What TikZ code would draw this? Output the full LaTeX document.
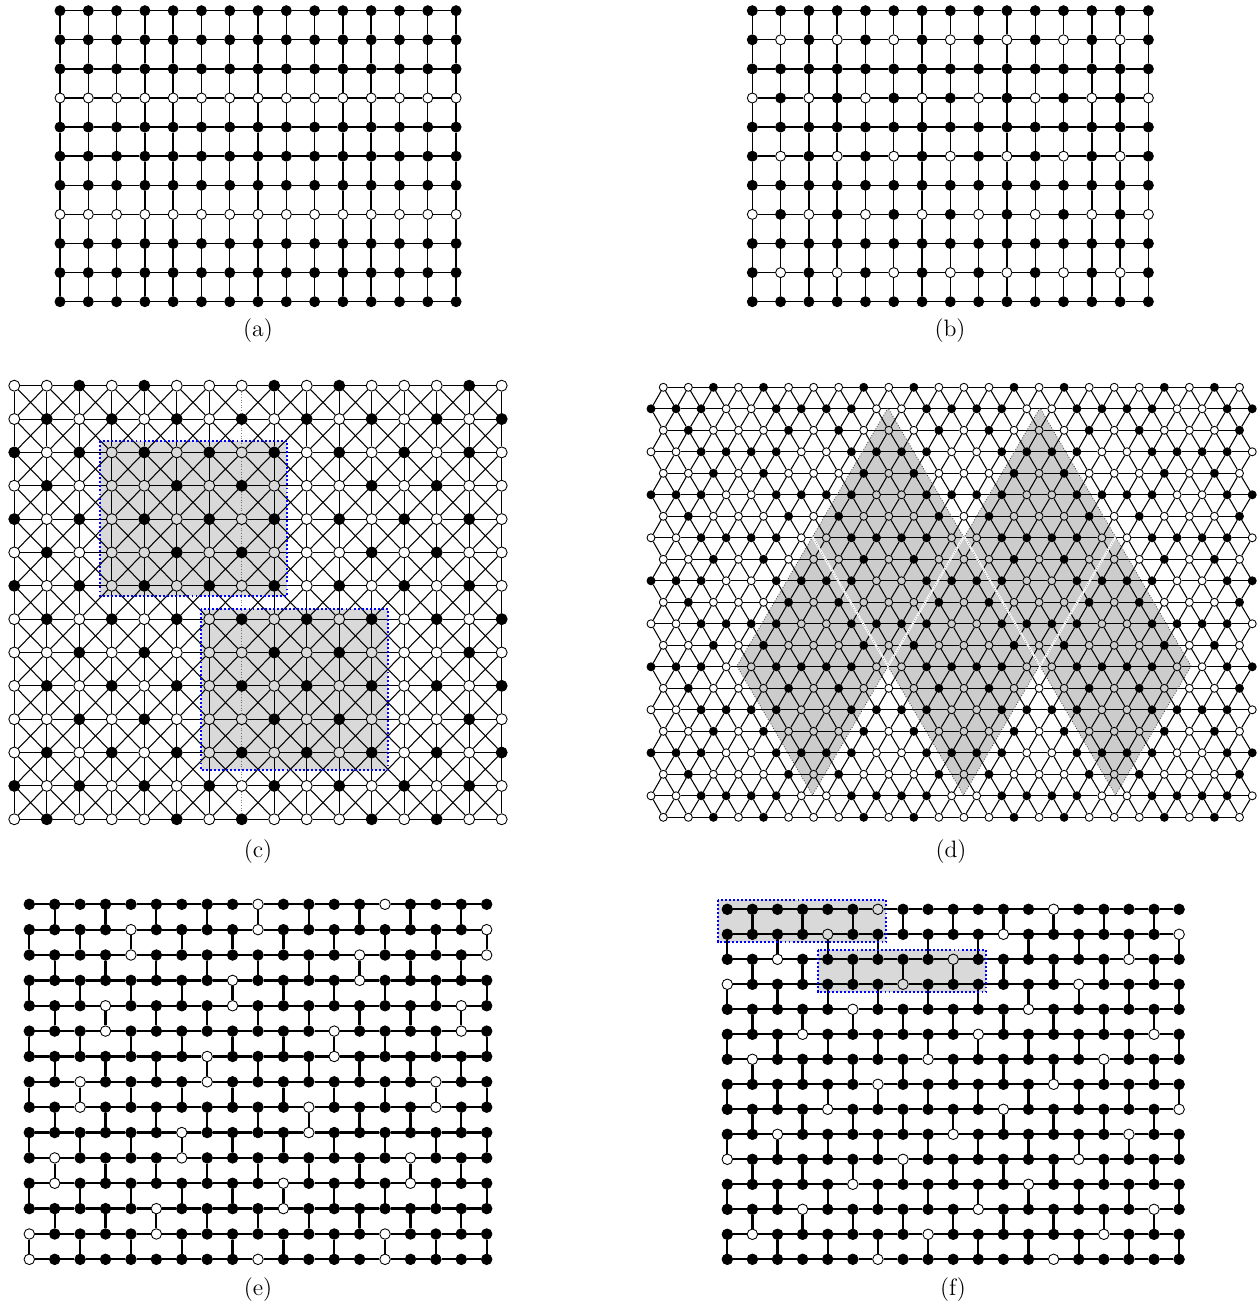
\documentclass[tikz,border=0pt]{standalone}
\usepackage{xstring}
\tikzset{
  vtx/.style={circle,draw=black,line width=0.5pt,inner sep=0pt,minimum size=#1},
  lnk/.style={line width=#1},
  greyfill/.style={fill=black,fill opacity=#1},
  bluebox/.style={draw=blue,line width=1.1pt,dash pattern=on 1.1pt off 1.2pt},
}
\begin{document}
\begin{tikzpicture}[x=0.02cm,y=-0.02cm,font=\fontsize{13.5}{16}\selectfont]
  \useasboundingbox (0,0) rectangle (1259,1310);
  % (a) and (b)
  \foreach \r in {0,...,10}
    \foreach \i in {0,...,14} {
      \pgfmathtruncatemacro\isw{\r==3 || \r==7}
      \ifnum\isw=1 \def\fc{white}\else\def\fc{black}\fi
      \node[vtx=0.2cm,fill=\fc] (a-\i-\r) at ({60+28.29*\i},{10.7+29.1*\r}) {};
    }
  \foreach \r in {0,...,10}
    \foreach \i in {0,...,14} {
      \pgfmathtruncatemacro\isw{(mod(\r,4)==1 && mod(\i,2)==1) || (mod(\r,4)==3 && mod(\i,2)==0)}
      \ifnum\isw=1 \def\fc{white}\else\def\fc{black}\fi
      \node[vtx=0.2cm,fill=\fc] (b-\i-\r) at ({752.3+28.29*\i},{10.7+29.1*\r}) {};
    }
  \foreach \p in {a,b} {
    \foreach \r in {0,...,10}
      \foreach \i [count=\j] in {0,...,13}
        \draw[lnk=0.8pt] (\p-\i-\r) -- (\p-\j-\r);
    \foreach \i in {0,...,14}
      \foreach \r [count=\s] in {0,...,9}
        \draw[lnk=0.8pt] (\p-\i-\r) -- (\p-\i-\s);
  }
  % (c)
  \foreach \r/\rt in {0/1,1/2,2/3,3/4,4/3,5/4,6/3,7/2,8/1,9/2,10/1,11/2,12/3,13/4}
    \foreach \i in {0,...,15} {
      \pgfmathtruncatemacro\isb{(\rt==1 && (mod(\i,6)==2 || mod(\i,6)==4)) || (\rt==2 && mod(\i,2)==1) || (\rt==3 && mod(\i,2)==0) || (\rt==4 && (mod(\i,6)==1 || mod(\i,6)==5))}
      \ifnum\isb=1 \def\fc{black}\else\def\fc{white}\fi
      \node[vtx=0.22cm,fill=\fc] (c-\i-\r) at ({14.3+32.49*\i},{385.7+33.35*\r}) {};
    }
  \foreach \r in {0,...,13}
    \foreach \i [count=\j] in {0,...,14}
      \draw[lnk=0.6pt] (c-\i-\r) -- (c-\j-\r);
  \foreach \i in {0,...,15}
    \foreach \r [count=\s] in {0,...,12} {
      \ifnum\i=7
        \draw[lnk=0.5pt,gray,densely dotted] (c-\i-\r) -- (c-\i-\s);
      \else
        \draw[lnk=0.6pt] (c-\i-\r) -- (c-\i-\s);
      \fi
    }
  \foreach \r [count=\s] in {0,...,12}
    \foreach \i [count=\j] in {0,...,14} {
      \draw[lnk=0.6pt] (c-\i-\r) -- (c-\j-\s);
      \draw[lnk=0.6pt] (c-\j-\r) -- (c-\i-\s);
    }
  \path[greyfill=0.15,bluebox] (100,441) rectangle (287,596);
  \path[greyfill=0.15,bluebox] (201,609) rectangle (388,770);
  % (d)
  \foreach \r in {0,...,20} {
    \pgfmathtruncatemacro\rt{mod(\r,4)}
    \ifodd\r \def\jmax{24}\def\xo{651}\else\def\jmax{23}\def\xo{663.3}\fi
    \foreach \j in {0,...,\jmax} {
      \pgfmathtruncatemacro\jm{mod(\j,6)}
      \pgfmathtruncatemacro\isb{(\rt==0 && (\jm==2 || \jm==4)) || (\rt==1 && \jm!=3 && \jm!=4) || (\rt==2 && (\jm==1 || \jm==5)) || (\rt==3 && \jm>1)}
      \ifnum\isb=1 \def\fc{black}\else\def\fc{white}\fi
      \node[vtx=0.16cm,fill=\fc] (d-\j-\r) at ({\xo+25.05*\j},{387.3+21.5*\r}) {};
    }
  }
  \foreach \r in {0,...,20} {
    \ifodd\r \def\jmax{23}\else\def\jmax{22}\fi
    \foreach \j [count=\k] in {0,...,\jmax}
      \draw[lnk=0.6pt] (d-\j-\r) -- (d-\k-\r);
  }
  \foreach \s in {1,3,...,19} {
    \pgfmathtruncatemacro\ru{\s-1}
    \pgfmathtruncatemacro\rd{\s+1}
    \foreach \j [count=\k] in {0,...,23}
      \draw[lnk=0.6pt] (d-\j-\s) -- (d-\j-\ru) -- (d-\k-\s) -- (d-\j-\rd) -- (d-\j-\s);
  }
  \foreach \tx/\ty in {888/408,1040/408,812.5/537,963.5/537,1115.5/537}
    \path[greyfill=0.2,draw=black!70,densely dotted,lnk=0.5pt]
      (\tx,\ty) -- ++(-75.5,129) -- ++(75.5,129) -- ++(75.5,-129) -- cycle;
  \foreach \tx in {888,1040} {
    \draw[white,lnk=1.2pt] ({\tx-75.5},537) -- (\tx,666) -- ({\tx+75.5},537);
    \draw[black!50,densely dotted,lnk=0.4pt] ({\tx-75.5},537) -- (\tx,666) -- ({\tx+75.5},537);
  }
  % (e) and (f)
  \foreach \r/\ws in {0/-9-14-,1/-4-9-18-,2/-4-13-18-,3/-8-13-,4/-3-8-17-,5/-3-12-17-,6/-7-12-,7/-2-7-16-,8/-2-11-16-,9/-6-11-,10/-1-6-15-,11/-1-10-15-,12/-5-10-,13/-0-5-14-,14/-0-9-14-}
    \foreach \i in {0,...,18} {
      \IfSubStr{\ws}{-\i-}{\def\fc{white}}{\def\fc{black}}
      \node[vtx=0.21cm,fill=\fc] (e-\i-\r) at ({29.3+25.41*\i},{904.3+25.36*\r}) {};
    }
  \foreach \r in {0,...,14}
    \foreach \i in {0,...,18} {
      \pgfmathtruncatemacro\isw{mod(\i+2*\r+1,7)==0}
      \ifnum\isw=1 \def\fc{white}\else\def\fc{black}\fi
      \node[vtx=0.21cm,fill=\fc] (f-\i-\r) at ({727.3+25.1*\i},{909.3+25*\r}) {};
    }
  \foreach \p in {e,f} {
    \foreach \r in {0,...,14}
      \foreach \i [count=\j] in {0,...,17}
        \draw[lnk=1.3pt] (\p-\i-\r) -- (\p-\j-\r);
    \foreach \r [count=\s] in {0,...,13}
      \foreach \i in {0,...,18} {
        \pgfmathtruncatemacro\odd{mod(\i+\r,2)}
        \ifnum\odd=1 \draw[lnk=1.3pt] (\p-\i-\r) -- (\p-\i-\s); \fi
      }
  }
  \path[greyfill=0.15,bluebox] (717.7,900) rectangle (886,942.3);
  \path[greyfill=0.15,bluebox] (817.7,950) rectangle (985.7,992.3);
  % captions
  \node (capa) at (258,331) {(a)};
  \node (capb) at (950,331) {(b)};
  \node (capc) at (258,852) {(c)};
  \node (capd) at (951,852) {(d)};
  \node (cape) at (258,1290) {(e)};
  \node (capf) at (953,1290) {(f)};
\end{tikzpicture}
\end{document}
